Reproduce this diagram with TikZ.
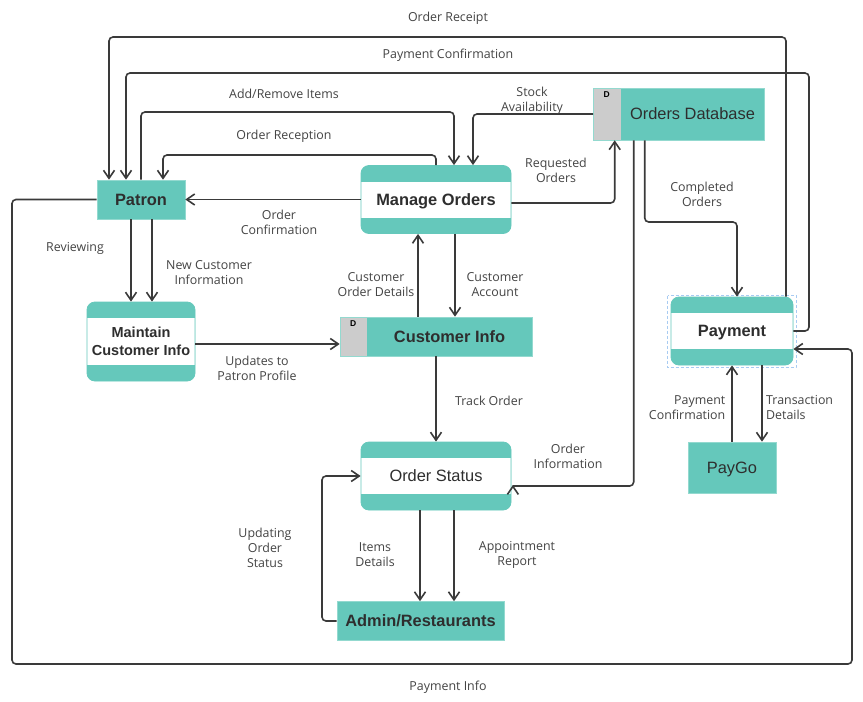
\documentclass[tikz,border=0pt]{standalone}
\usepackage{fontspec}
\usetikzlibrary{arrows.meta}
\newfontfamily\lblfont{Open Sans}
\newfontfamily\ttlfont{Liberation Sans}
\definecolor{tealc}{HTML}{65C8BB}
\definecolor{storegray}{HTML}{CCCCCC}
\definecolor{linec}{HTML}{3A3A3A}
\definecolor{labelc}{HTML}{444444}
\definecolor{titlec}{HTML}{2E2E2E}
\definecolor{selc}{HTML}{A8CBF2}
\tikzset{
  flowline/.style={draw=linec, line width=1.6pt, rounded corners=4pt},
  flow/.style={flowline, -{Straight Barb[length=8pt,width=11pt,line width=1.6pt]}},
  lbl/.style={font=\lblfont\fontsize{12.4}{15}\selectfont, text=labelc, align=center, inner sep=0pt, yshift=-1.5pt},
  ttl/.style={font=\ttlfont\bfseries\fontsize{16.4}{19}\selectfont, text=titlec},
  onel/.style={text height=11.8pt, text depth=0pt},
  extent/.style={fill=tealc, draw=tealc!70!white, line width=0.6pt, inner sep=0pt, ttl, onel},
  proc/.style={fill=tealc, draw=tealc, line width=0.8pt, rounded corners=8pt, inner sep=0pt, ttl,
    path picture={\fill[white, sharp corners] ([yshift=-16pt]path picture bounding box.north west)
      rectangle ([yshift=16pt]path picture bounding box.south east);}},
  store/.style={fill=tealc, draw=tealc!70!white, line width=0.6pt, inner sep=0pt,
    path picture={\fill[storegray] (path picture bounding box.north west)
      rectangle ([xshift=27pt]path picture bounding box.south west);}},
  dmark/.style={font=\ttlfont\bfseries\fontsize{8.5}{9}\selectfont, text=black, inner sep=0pt},
}
\begin{document}
\begin{tikzpicture}[x=1pt,y=-1pt]
\useasboundingbox[fill=white] (0,0) rectangle (863,702);

% ---------- external entities ----------
\node[extent, minimum width=88pt, minimum height=39pt] (patron) at (141,199.5) {Patron};
\node[extent, minimum width=88pt, minimum height=51pt, font=\ttlfont\fontsize{16.4}{19}\selectfont] (paygo) at (732,467.5) {PayGo};
\node[extent, minimum width=167pt, minimum height=39pt] (admin) at (420.5,621) {Admin/Restaurants};

% ---------- processes ----------
\node[proc, onel, minimum width=150pt, minimum height=68pt] (manage) at (436,199.5) {Manage Orders};
\node[proc, minimum width=108pt, minimum height=79pt, align=center,
      font=\ttlfont\bfseries\fontsize{14.5}{18}\selectfont] (maint) at (141,341.5) {Maintain\\Customer Info};
\node[proc, onel, minimum width=122pt, minimum height=68pt] (payment) at (732,331) {Payment};
\node[proc, onel, minimum width=150pt, minimum height=68pt, font=\ttlfont\fontsize{16.4}{19}\selectfont] (os) at (436,476) {Order Status};
\draw[selc, line width=0.8pt, dash pattern=on 3pt off 2pt] (667.5,295.5) rectangle (796,367.5);

% ---------- data stores ----------
\node[store, minimum width=171pt, minimum height=52pt] (db) at (679,114) {};
\node[dmark] (dbD) at ([xshift=13.5pt,yshift=-6.5pt]db.north west) {D};
\node[ttl, onel, inner sep=0pt, font=\ttlfont\fontsize{16.4}{19}\selectfont] (dbname) at ([xshift=13.5pt]db.center) {Orders Database};
\node[store, minimum width=192pt, minimum height=39pt] (ci) at (436,336.5) {};
\node[dmark] (ciD) at ([xshift=13.5pt,yshift=-6.5pt]ci.north west) {D};
\node[ttl, onel, inner sep=0pt] (ciname) at ([xshift=13.5pt]ci.center) {Customer Info};

% ---------- flows around the top ----------
\draw[flow] ([xshift=54pt]payment.north) |- (448,37) -| ([xshift=-32pt]patron.north);
\node[lbl] (lOR) at (448,17) {Order Receipt};

\draw[flow] (payment.east) -| (809,73) -| ([xshift=-15pt]patron.north);
\node[lbl] (lPC) at (448,54) {Payment Confirmation};

\draw[flow] (patron.north) |- (300,112) -| ([xshift=18pt]manage.north);
\node[lbl] (lAR) at (284,92) {Add/Remove Items};

\draw[flow] (manage.north) |- (300,155) -| ([xshift=22pt]patron.north);
\node[lbl] (lORc) at (284,134.5) {Order Reception};

\draw[flow] (db.west) -| ([xshift=37pt]manage.north);
\node[lbl] (lSA) at (532,99.5) {Stock\\Availability};

\draw[flow] ([yshift=-3.5pt]manage.east) -| ([xshift=21.5pt]db.south west);
\node[lbl] (lRO) at (556,168.5) {Requested\\Orders};

\draw[flow] (manage.west) -- (patron.east);
\node[lbl] (lOC) at (279,221) {Order\\Confirmation};

\draw[flow] ([xshift=51.5pt]db.south west) |- (700,222) -| ([xshift=5pt]payment.north);
\node[lbl] (lCO) at (702,193) {Completed\\Orders};

% order information reaches the lower corner of Order Status
\coordinate (oscorner) at ([xshift=1.5pt,yshift=-10pt]os.east);
\draw[flowline] ([xshift=40.5pt]db.south west) |- (oscorner);
\draw[flow] (oscorner) -- ++(0,-1);
\node[lbl] (lOI) at (568,454.5) {Order\\Information};

% ---------- payment info loop ----------
\draw[flow] (patron.west) -| (12,664) -| (852,349) -- ([yshift=-18pt]payment.east);
\node[lbl] (lPI) at (448,685.5) {Payment Info};

% ---------- patron / customer info ----------
\draw[flow] ([xshift=-10pt]patron.south) -- ([xshift=-10pt]maint.north);
\node[lbl] (lRv) at (75,247) {Reviewing};
\draw[flow] ([xshift=11pt]patron.south) -- ([xshift=11pt]maint.north);
\node[lbl] (lNC) at (209,271.5) {New Customer\\Information};

\coordinate (u1) at ([yshift=-2.5pt]maint.east);
\draw[flow] (u1) -- (u1 -| ci.west);
\node[lbl] (lUP) at (257,366.5) {Updates to\\Patron Profile};

\draw[flow] ([xshift=-18pt]ci.north) -- ([xshift=-18pt]manage.south);
\node[lbl] (lCOD) at (376,283.5) {Customer\\Order Details};
\draw[flow] ([xshift=19pt]manage.south) -- ([xshift=19pt]ci.north);
\node[lbl] (lCA) at (495,283.5) {Customer\\Account};

\draw[flow] (ci.south) -- (os.north);
\node[lbl] (lTO) at (489,399) {Track Order};

% ---------- payment / paygo ----------
\draw[flow] (paygo.north) -- (payment.south);
\node[lbl, align=right, anchor=east] (lPC2) at (725.5,406.5) {Payment\\Confirmation};
\draw[flow] ([xshift=30pt]payment.south) -- ([xshift=30pt]paygo.north);
\node[lbl, align=left, anchor=west] (lTD) at (766,406.5) {Transaction\\Details};

% ---------- order status / admin ----------
\draw[flow] ([xshift=-16pt]os.south) -- ([xshift=-0.5pt]admin.north);
\node[lbl] (lID) at (375,553.5) {Items\\Details};
\draw[flow] ([xshift=18pt]os.south) -- ([xshift=33.5pt]admin.north);
\node[lbl] (lApp) at (517,553.5) {Appointment\\Report};

\draw[flow] (admin.west) -| (322,476) -- (os.west);
\node[lbl] (lUO) at (265,546) {Updating\\Order\\Status};
\end{tikzpicture}
\end{document}
